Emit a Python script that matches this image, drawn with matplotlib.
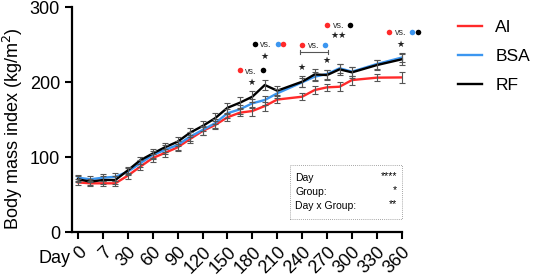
import matplotlib.pyplot as plt
from matplotlib.lines import Line2D
from matplotlib.patches import Rectangle

plt.rcParams['font.family'] = ['Liberation Sans', 'DejaVu Sans']

# x positions in tick units (ticks at 0..13), half steps where the source had extra visits
pos = [0, 0.5, 1, 1.5, 2, 2.5, 3, 3.5, 4, 4.5, 5, 5.5, 6, 6.5, 7, 7.5, 8,
       9, 9.5, 10, 10.5, 11, 12, 13]
tick_labels = ['0', '7', '30', '60', '90', '120', '150', '180', '210',
               '240', '270', '300', '330', '360']

ai = [66.5, 65.3, 65.3, 65.3, 75.5, 87.5, 99, 106, 113.3, 124.4, 135, 143,
      153.3, 159.5, 161.7, 168.4, 177, 180.8, 189.7, 193.3, 194.1, 203, 206.2, 206.5]
bsa = [72.8, 70.7, 72.8, 74, 80.8, 92, 103, 110, 116.4, 127.5, 136.4, 145.3,
       158.7, 164, 172, 176.4, 185.3, 200, 207.5, 211, 218.7, 214.2, 224.4, 233]
rf = [70.7, 67.5, 69.7, 69.7, 82.5, 96, 105, 113.5, 120.8, 132.8, 141.7, 152,
      166, 172.8, 180.8, 196.4, 188.8, 200.8, 210.5, 209.7, 217.3, 213.3, 223, 230.7]

err_ai = [4, 3, 3, 3, 4, 4, 5, 5, 5, 5, 5, 5, 5, 5, 6, 6, 5, 5, 5, 5, 6, 6, 5, 7]
err_bsa = [4, 4, 5, 5, 5, 5, 5, 6, 6, 6, 6, 6, 6, 6, 6, 6, 6, 6, 6, 6, 6, 6, 6, 6]
err_rf = [4, 4, 5, 5, 5, 5, 6, 6, 6, 6, 7, 7, 7, 7, 7, 7, 6, 7, 7, 7, 7, 7, 7, 7]

RED, BLUE, BLACK = '#ff2a2a', '#3c96f0', '#000000'

# pairwise comparisons: (x, y, left dots, right dots, stars x, stars y, stars)
comparisons = [
    (6.95, 215, [RED], [BLACK], 6.98, 200, '★'),
    (7.55, 250, [BLACK], [BLUE, RED], 7.5, 234, '★'),
    (9.46, 249, [RED], [BLUE], 9.98, 229, '★'),
    (10.45, 276, [RED], [BLACK], 10.45, 262, '★★'),
    (12.95, 266, [RED], [BLUE, BLACK], 12.96, 251, '★'),
]

fig = plt.figure(figsize=(5.36, 2.79), dpi=100)
ax = fig.add_axes([0.1338, 0.1674, 0.6275, 0.8064])

for y, e, c in [(ai, err_ai, RED), (bsa, err_bsa, BLUE), (rf, err_rf, BLACK)]:
    ax.plot(pos, y, color=c, lw=1.7, zorder=2)
for y, e, c in [(ai, err_ai, RED), (bsa, err_bsa, BLUE), (rf, err_rf, BLACK)]:
    ax.errorbar(pos, y, yerr=e, fmt='none', ecolor='#555555', elinewidth=0.8,
                capsize=2.2, capthick=0.8, zorder=3)

ax.set_xlim(-0.25, 13.25)
ax.set_ylim(0, 300)
ax.set_yticks([0, 100, 200, 300])
ax.set_xticks(range(len(tick_labels)))
ax.set_xticklabels(tick_labels, rotation=45, ha='right', rotation_mode='anchor')
ax.tick_params(axis='both', labelsize=13, width=1.5, length=5)
ax.tick_params(axis='x', pad=3)
for s in ['top', 'right']:
    ax.spines[s].set_visible(False)
for s in ['left', 'bottom']:
    ax.spines[s].set_linewidth(1.6)
ax.spines['bottom'].set_bounds(-0.25, 13)
ax.set_ylabel('Body mass index (kg/m$^2$)', fontsize=13)
ax.yaxis.set_label_coords(-0.14, 0.46)
ax.text(-0.3, -0.115, 'Day', transform=ax.get_xaxis_transform(),
        ha='right', va='center', fontsize=13)

# comparison annotations
for x, y, left, right, sx, sy, st in comparisons:
    ax.text(x, y, 'vs.', ha='center', va='center', fontsize=6.5, color='#333333')
    for i, c in enumerate(left[::-1]):
        ax.plot(x - 0.46 - 0.24 * i, y + 1, 'o', color=c, ms=4, mec='none', clip_on=False)
    for i, c in enumerate(right):
        ax.plot(x + 0.46 + 0.24 * i, y + 1, 'o', color=c, ms=4, mec='none', clip_on=False)
    ax.text(sx, sy, st, ha='center', va='center', fontsize=6.5, color='#222222')
# bracket for the 240-270 comparison
ax.plot([8.9, 10.02], [240.5, 240.5], color='#555555', lw=0.8)
ax.plot([8.9, 8.9], [237.5, 243.5], color='#555555', lw=0.8)
ax.plot([10.02, 10.02], [237.5, 243.5], color='#555555', lw=0.8)
ax.text(8.98, 220, '★', ha='center', va='center', fontsize=6.5, color='#222222')

# two-way ANOVA box
box = Rectangle((290 / 536, 1 - 219 / 279), 112 / 536, 54 / 279, transform=fig.transFigure,
                fill=False, ls=(0, (1, 1.5)), lw=0.6, ec='#888888')
fig.patches.append(box)
stats = [('Day', '****'), ('Group:', '*'), ('Day x Group:', '**')]
for i, (lab, st) in enumerate(stats):
    yy = 1 - (178 + 14 * i) / 279
    fig.text(295 / 536, yy, lab, fontsize=7.5, va='center', ha='left')
    fig.text(397 / 536, yy + 0.008, st, fontsize=7.5, va='center', ha='right')

handles = [Line2D([], [], color=c, lw=1.7) for c in (RED, BLUE, BLACK)]
fig.legend(handles, ['AI', 'BSA', 'RF'], loc='upper left',
           bbox_to_anchor=(458 / 536, 1 - 20 / 279), frameon=False, fontsize=12.5,
           handlelength=1.4, handletextpad=0.75, labelspacing=0.8,
           borderpad=0, borderaxespad=0)

fig.savefig('out.png', dpi=100)
